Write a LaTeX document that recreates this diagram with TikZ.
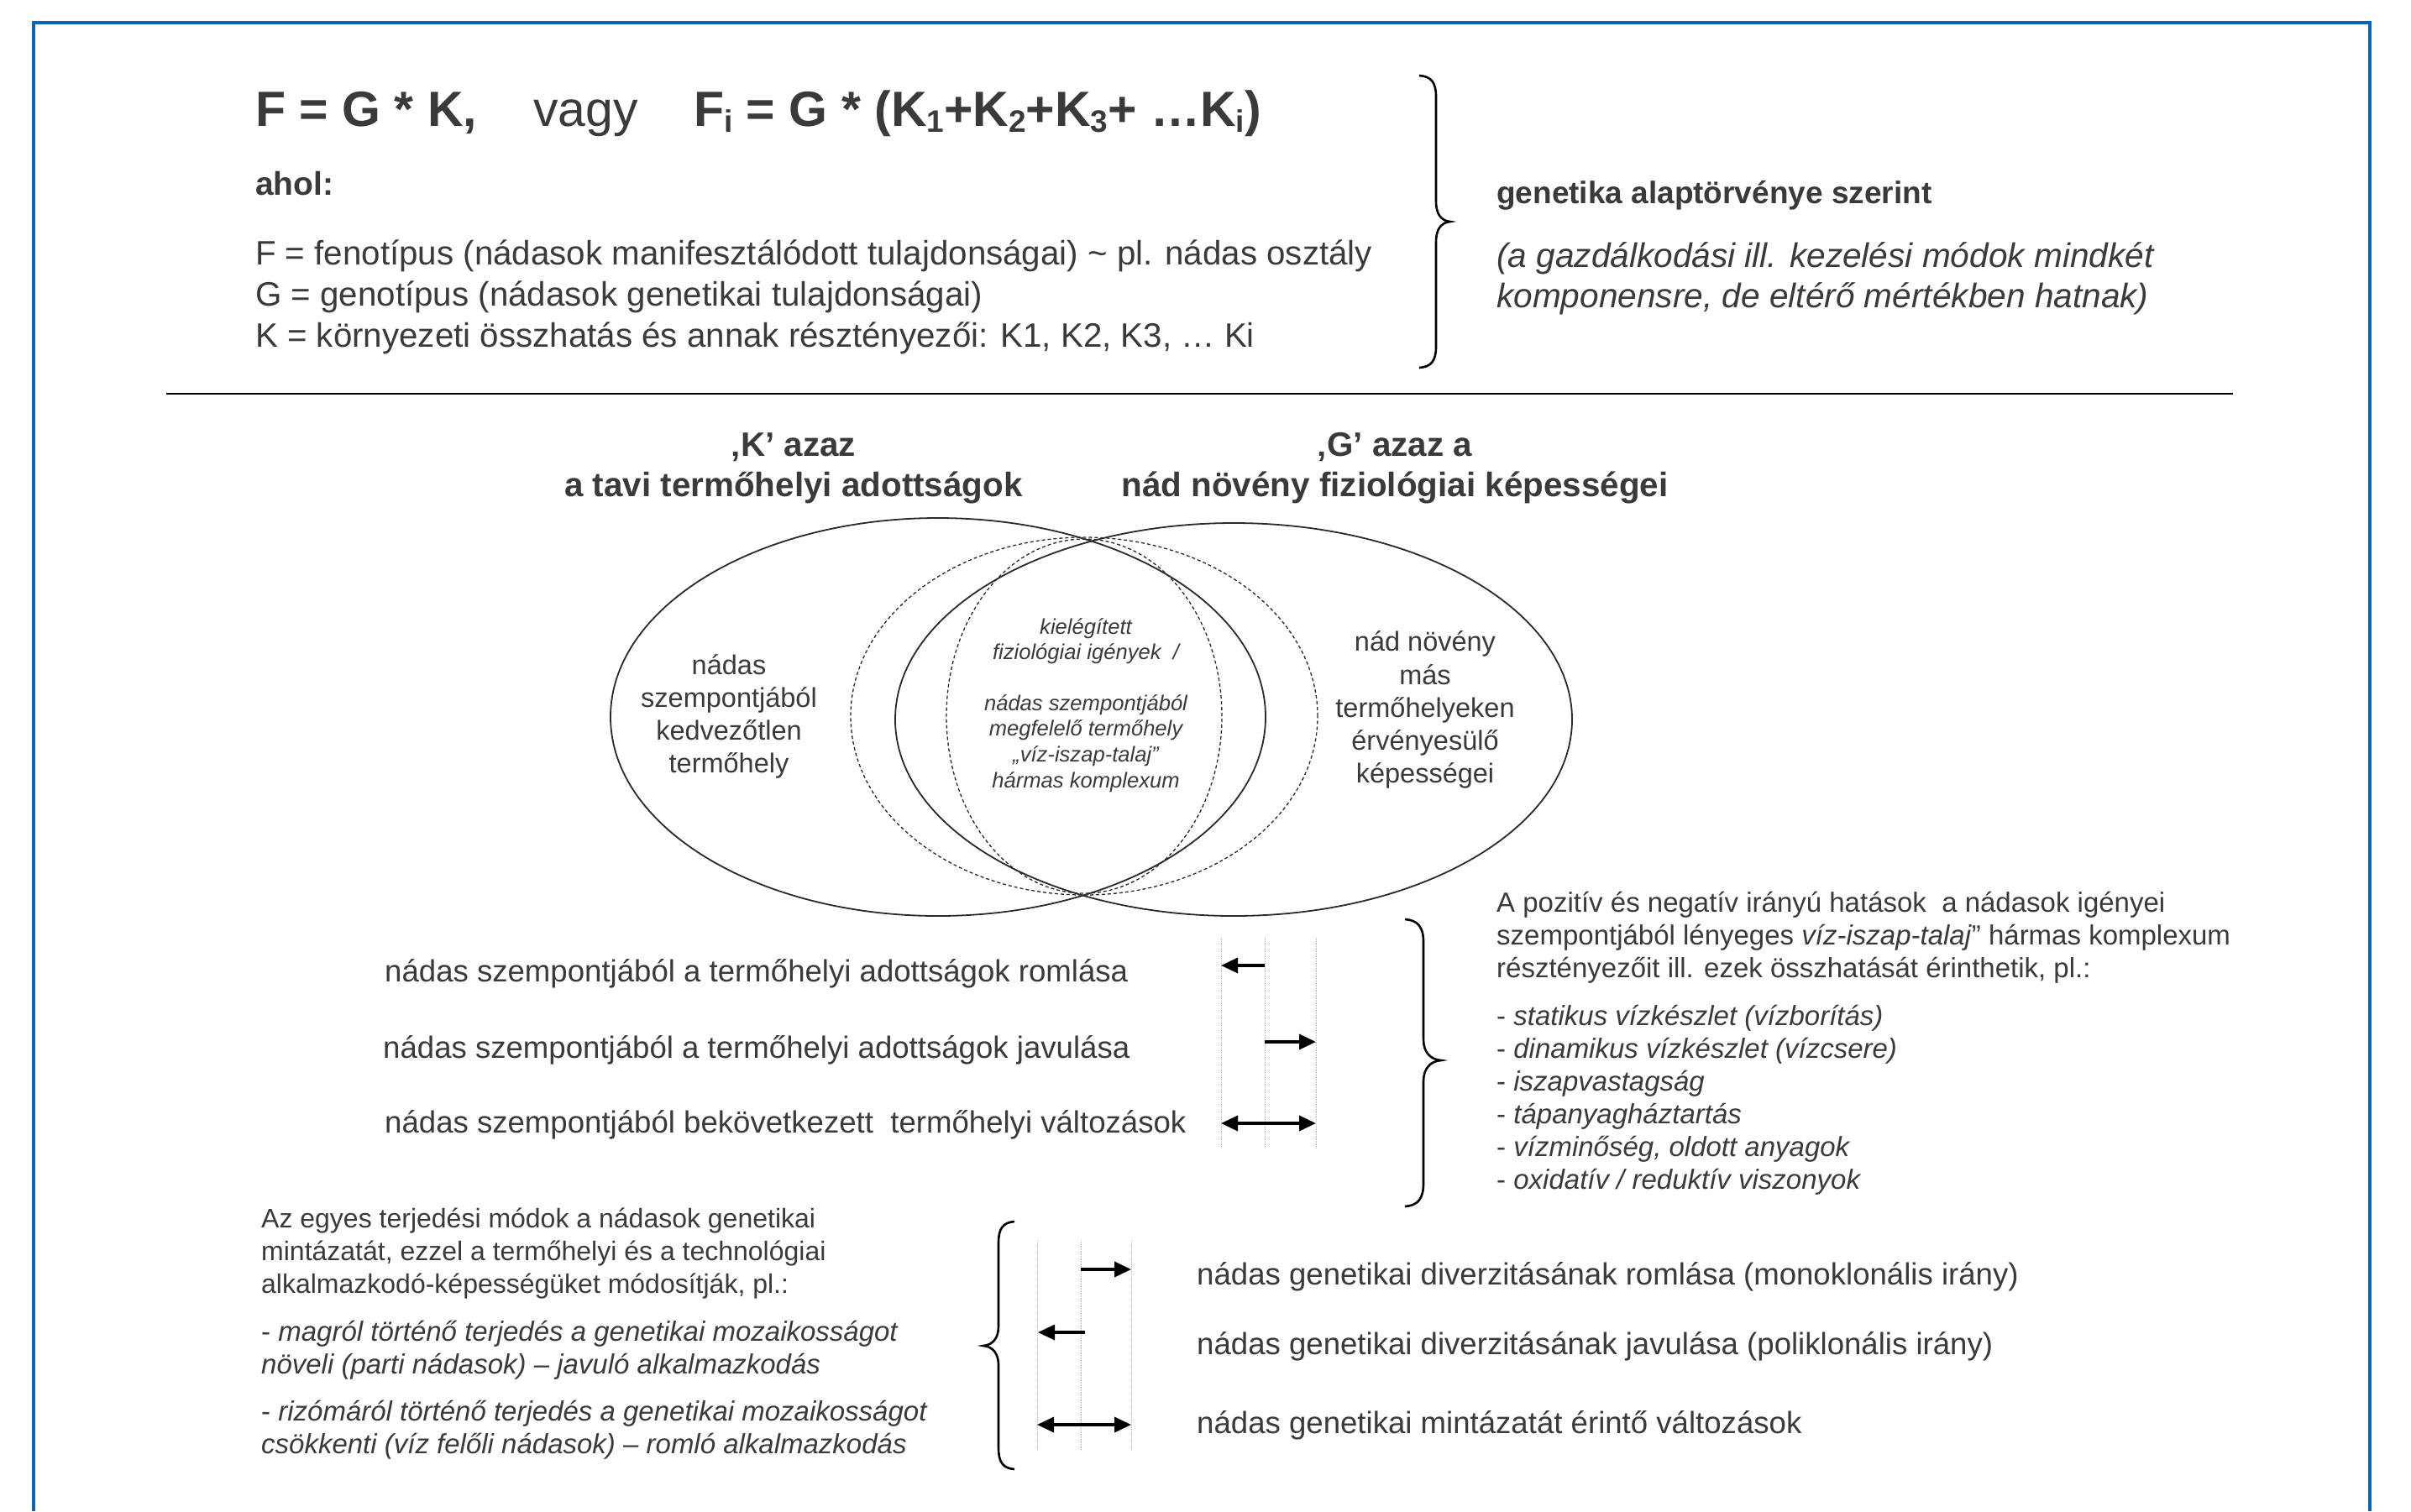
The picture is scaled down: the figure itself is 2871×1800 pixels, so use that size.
\documentclass[tikz,border=0pt]{standalone}
\usepackage{fontspec}
\setmainfont{Liberation Sans}
\usetikzlibrary{arrows.meta}
\definecolor{txt}{HTML}{3A3A3A}
\definecolor{frameblue}{HTML}{0A66B4}
\definecolor{lin}{HTML}{2A2A2A}
\newcommand\fsz[1]{\fontsize{#1}{#1}\selectfont}
\newcommand\subs[1]{\raisebox{-0.12em}{\fontsize{37}{37}\selectfont #1}}
\tikzset{
  tl/.style={anchor=base west, inner sep=0pt, text=txt},
  tc/.style={anchor=base, inner sep=0pt, text=txt},
  big/.style={tl, font=\fsz{59}},
  bigb/.style={tl, font=\fsz{59}\bfseries},
  top/.style={tl, font=\fsz{40.3}},
  topb/.style={tl, font=\fsz{39}\bfseries},
  topi/.style={tl, font=\fsz{40.6}\itshape},
  head/.style={tc, font=\fsz{40.4}\bfseries},
  venn/.style={tc, font=\fsz{32.5}},
  vennc/.style={tc, font=\fsz{25.6}\itshape},
  lab/.style={tl, font=\fsz{36.6}},
  small/.style={tl, font=\fsz{33}},
  smalli/.style={tl, font=\fsz{33}\itshape},
  smb/.style={tl, font=\fsz{32}},
  smbi/.style={tl, font=\fsz{33}\itshape},
  guide/.style={gray!60, line width=1pt, densely dotted},
  arr/.style={black, line width=3.5pt, -{Triangle[length=20pt,width=18pt]}},
  darr/.style={black, line width=3.5pt, {Triangle[length=20pt,width=18pt]}-{Triangle[length=20pt,width=18pt]}},
  bracepath/.style={black, line width=2.6pt},
  solidell/.style={lin, line width=1.8pt},
  dashell/.style={lin, line width=1.3pt, dash pattern=on 4pt off 3pt},
}
\begin{document}
\begin{tikzpicture}[x=1pt,y=-1pt]
\useasboundingbox (0,0) rectangle (2871,1800);
\fill[white] (0,0) rectangle (2871,1800);
% frame
\draw[frameblue, line width=4pt] (40,1800) -- (40,27) -- (2822,27) -- (2822,1800);

% formula
\node[bigb] (f1) at (304,150) {F = G * K,};
\node[big] (f2) at (635,150) {vagy};
\node[bigb] (f3) at (826,150) {F\subs{i} = G * (K\subs{1}+K\subs{2}+K\subs{3}+ …K\subs{i})};
\node[topb] (ahol) at (304,232) {ahol:};
\node[top] (lf) at (304,315) {F = fenotípus (nádasok manifesztálódott tulajdonságai) \textasciitilde{} pl. nádas osztály};
\node[top] (lg) at (304,364) {G = genotípus (nádasok genetikai tulajdonságai)};
\node[top] (lk) at (304,413) {K = környezeti összhatás és annak résztényezői: K1, K2, K3, … Ki};

% top brace
\draw[bracepath] (1690,90) .. controls (1704,91) and (1710,98) .. (1710,115) -- (1710,240)
  .. controls (1710,255) and (1716,263) .. (1727,264)
  .. controls (1716,265) and (1710,273) .. (1710,288) -- (1710,413)
  .. controls (1710,430) and (1704,437) .. (1690,438);
\node[tl, font=\fsz{37}\bfseries] (gen) at (1782,242) {genetika alaptörvénye szerint};
\node[topi] (gi1) at (1782,318) {(a gazdálkodási ill. kezelési módok mindkét};
\node[topi] (gi2) at (1782,366) {komponensre, de eltérő mértékben hatnak)};

% divider
\coordinate (dl) at (198,469);
\coordinate (dr) at (2659,469);
\draw[black, line width=2pt] (dl) -- (dr);

% headings
\node[head] (hk1) at (945,543) {‚K’ azaz};
\node[head] (hk2) at (945,591) {a tavi termőhelyi adottságok};
\node[head] (hg1) at (1661,543) {‚G’ azaz a};
\node[head] (hg2) at (1661,591) {nád növény fiziológiai képességei};

% ellipses
\draw[solidell] (1117,854) ellipse [x radius=390pt, y radius=237pt];
\draw[solidell] (1469,857) ellipse [x radius=403pt, y radius=234pt];
\draw[dashell] (1291,853) ellipse [x radius=278pt, y radius=213pt];
\draw[dashell] (1291,853) ellipse [x radius=164pt, y radius=211pt];

% venn texts
\node[venn] (l1) at (868,803) {nádas};
\node[venn] (l2) at (868,842) {szempontjából};
\node[venn] (l3) at (868,881) {kedvezőtlen};
\node[venn] (l4) at (868,920) {termőhely};
\node[venn] (r1) at (1697,775) {nád növény};
\node[venn] (r2) at (1697,815) {más};
\node[venn] (r3) at (1697,854) {termőhelyeken};
\node[venn] (r4) at (1697,893) {érvényesülő};
\node[venn] (r5) at (1697,932) {képességei};
\node[vennc] (c1) at (1293,755) {kielégített};
\node[vennc] (c2) at (1293,785) {fiziológiai igények\ \ /};
\node[vennc] (c3) at (1293,846) {nádas szempontjából};
\node[vennc] (c4) at (1293,876) {megfelelő termőhely};
\node[vennc] (c5) at (1293,907) {„víz-iszap-talaj”};
\node[vennc] (c6) at (1293,938) {hármas komplexum};

% middle section labels
\node[lab] (m1) at (458,1169) {nádas szempontjából a termőhelyi adottságok romlása};
\node[lab] (m2) at (456,1260) {nádas szempontjából a termőhelyi adottságok javulása};
\node[lab] (m3) at (458,1349) {nádas szempontjából bekövetkezett\ \ termőhelyi változások};

% guides middle
\foreach \gx/\gn in {1454/ga,1506/gb,1567/gc}{
  \coordinate (\gn t) at (\gx,1117);
  \coordinate (\gn b) at (\gx,1368);
  \draw[guide] (\gn t) -- (\gn b);
}
\coordinate (a1s) at (1506,1150); \coordinate (a1e) at (1454,1150);
\coordinate (a2s) at (1506,1241); \coordinate (a2e) at (1567,1241);
\coordinate (a3s) at (1454,1338); \coordinate (a3e) at (1567,1338);
\draw[arr] (a1s) -- (a1e);
\draw[arr] (a2s) -- (a2e);
\draw[darr] (a3s) -- (a3e);

% middle brace
\draw[bracepath] (1673,1095) .. controls (1688,1096) and (1695,1104) .. (1695,1122) -- (1695,1238)
  .. controls (1695,1253) and (1703,1262) .. (1716,1263)
  .. controls (1703,1264) and (1695,1273) .. (1695,1288) -- (1695,1410)
  .. controls (1695,1428) and (1688,1436) .. (1673,1437);

% right list
\node[small] (p1) at (1782,1086) {A pozitív és negatív irányú hatások\ \ a nádasok igényei};
\node[small] (p2) at (1782,1125) {szempontjából lényeges \textit{víz-iszap-talaj}” hármas komplexum};
\node[small] (p3) at (1782,1164) {résztényezőit ill. ezek összhatását érinthetik, pl.:};
\node[smalli] (q1) at (1782,1221) {\upshape-\itshape\ statikus vízkészlet (vízborítás)};
\node[smalli] (q2) at (1782,1260) {\upshape-\itshape\ dinamikus vízkészlet (vízcsere)};
\node[smalli] (q3) at (1782,1299) {\upshape-\itshape\ iszapvastagság};
\node[smalli] (q4) at (1782,1338) {\upshape-\itshape\ tápanyagháztartás};
\node[smalli] (q5) at (1782,1377) {\upshape-\itshape\ vízminőség, oldott anyagok};
\node[smalli] (q6) at (1782,1416) {\upshape-\itshape\ oxidatív / reduktív viszonyok};

% bottom left text
\node[smb] (b1) at (311,1462) {Az egyes terjedési módok a nádasok genetikai};
\node[smb] (b2) at (311,1501) {mintázatát, ezzel a termőhelyi és a technológiai};
\node[smb] (b3) at (311,1540) {alkalmazkodó-képességüket módosítják, pl.:};
\node[smbi] (b4) at (311,1597) {\upshape-\itshape\ magról történő terjedés a genetikai mozaikosságot};
\node[smbi] (b5) at (311,1636) {növeli (parti nádasok) – javuló alkalmazkodás};
\node[smbi] (b6) at (311,1692) {\upshape-\itshape\ rizómáról történő terjedés a genetikai mozaikosságot};
\node[smbi] (b7) at (311,1731) {csökkenti (víz felőli nádasok) – romló alkalmazkodás};

% bottom brace (left-pointing)
\draw[bracepath] (1208,1455) .. controls (1194,1456) and (1189,1464) .. (1189,1480) -- (1189,1580)
  .. controls (1189,1594) and (1182,1602) .. (1171,1603)
  .. controls (1182,1604) and (1189,1612) .. (1189,1626) -- (1189,1725)
  .. controls (1189,1741) and (1194,1749) .. (1208,1750);

% guides bottom
\foreach \gx/\gn in {1235/gd,1287/ge,1347/gf}{
  \coordinate (\gn t) at (\gx,1478);
  \coordinate (\gn b) at (\gx,1727);
  \draw[guide] (\gn t) -- (\gn b);
}
\coordinate (a4s) at (1287,1512); \coordinate (a4e) at (1347,1512);
\coordinate (a5s) at (1292,1587); \coordinate (a5e) at (1236,1587);
\coordinate (a6s) at (1235,1697); \coordinate (a6e) at (1347,1697);
\draw[arr] (a4s) -- (a4e);
\draw[arr] (a5s) -- (a5e);
\draw[darr] (a6s) -- (a6e);

% bottom right labels
\node[lab] (n1) at (1425,1530) {nádas genetikai diverzitásának romlása (monoklonális irány)};
\node[lab] (n2) at (1425,1613) {nádas genetikai diverzitásának javulása (poliklonális irány)};
\node[lab] (n3) at (1425,1707) {nádas genetikai mintázatát érintő változások};
\end{tikzpicture}
\end{document}
